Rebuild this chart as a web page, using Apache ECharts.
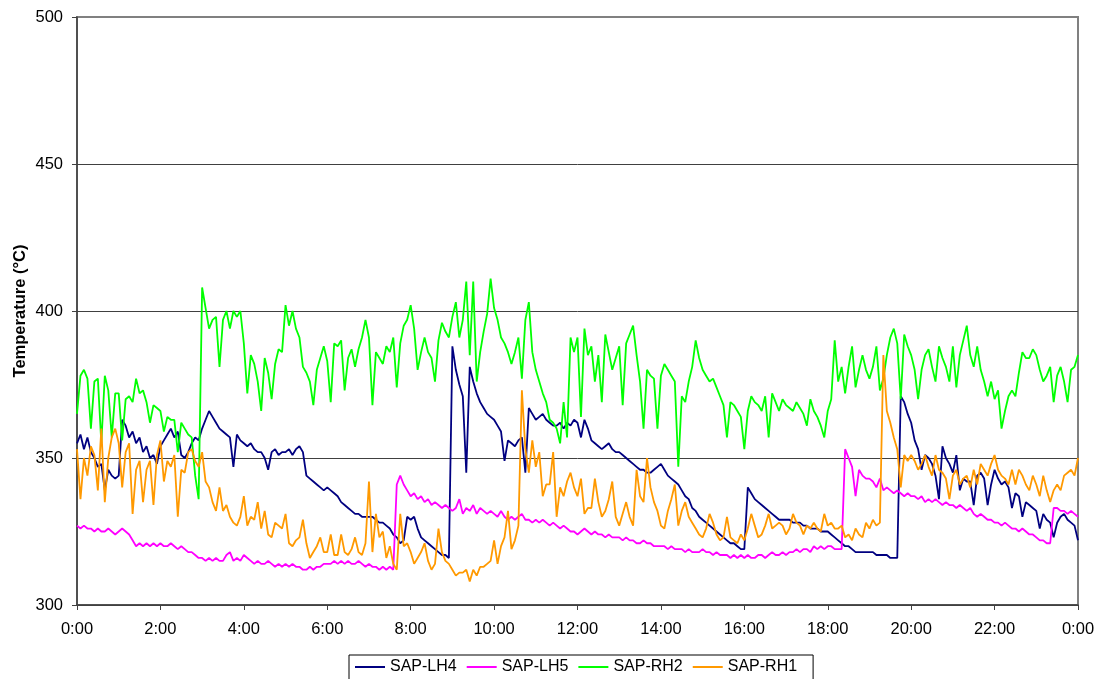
<!DOCTYPE html>
<html>
<head>
<meta charset="utf-8">
<script src="https://cdn.jsdelivr.net/npm/echarts@6/dist/echarts.min.js"></script>
<style>html,body{margin:0;padding:0;background:#fff;}#c{width:1098px;height:679px;}</style>
</head>
<body>
<div id="c"></div>
<script>
// Sampling step (minutes) of the series arrays below
const stepMinutes = 5;
const seriesNames = ['SAP-LH4', 'SAP-LH5', 'SAP-RH2', 'SAP-RH1'];
const yTicks = [300, 350, 400, 450, 500];
const xTickLabels = ['0:00','2:00','4:00','6:00','8:00','10:00','12:00','14:00','16:00','18:00','20:00','22:00','0:00'];

// SAP-LH4 (one row = one hour, 5-min samples)
const lh4 = [
 355,358,353,357,352,350,347,348,339,346,344,343,
 344,363,361,357,359,355,357,352,354,350,351,348,
 354,356,358,360,357,359,351,350,352,355,357,356,
 360,363,366,364,362,360,359,358,357,347,358,356,
 355,354,355,353,352,352,350,346,352,353,351,352,
 352,353,351,353,354,352,344,343,342,341,340,339,
 340,339,338,337,335,334,333,332,331,331,330,330,
 330,330,329,328,328,327,326,324,323,321,322,330,
 329,330,326,323,322,321,320,319,318,317,317,316,
 388,380,375,371,345,381,376,372,369,367,365,364,
 363,361,359,349,356,355,354,356,357,345,367,365,
 363,364,365,363,362,361,361,362,360,362,361,363,
 362,357,363,360,356,355,354,353,354,355,353,352,
 352,351,350,349,348,347,346,346,345,345,346,347,
 348,346,344,343,342,341,339,337,336,333,332,330,
 329,328,327,326,325,324,323,322,321,321,320,319,
 319,340,338,336,335,334,333,332,331,330,329,329,
 329,329,328,328,328,327,327,326,326,326,325,325,
 325,324,323,322,321,320,320,319,318,318,318,318,
 318,318,317,317,317,317,316,316,316,371,369,365,
 362,356,353,346,351,350,348,344,336,354,350,348,
 345,351,339,343,342,342,334,344,345,343,334,341,
 346,343,341,342,340,333,338,337,330,335,334,333,
 332,326,331,329,328,323,328,330,331,329,328,327,
 322
];

// SAP-LH5
const lh5 = [
 327,326,327,326,326,325,326,325,325,326,325,324,
 325,326,325,324,322,320,321,320,321,320,321,320,
 321,320,320,321,320,319,320,319,318,318,317,316,
 316,315,316,315,316,315,315,317,318,315,316,315,
 317,316,315,314,315,314,314,315,314,313,314,313,
 314,313,314,313,313,312,312,313,312,313,313,314,
 314,314,315,314,315,314,315,314,314,315,314,313,
 314,313,313,312,313,312,313,312,341,344,341,339,
 337,338,336,337,335,336,334,335,334,333,334,333,
 332,333,336,331,333,332,334,331,333,332,331,332,
 331,330,332,330,329,330,329,330,331,329,329,328,
 329,328,329,328,327,328,327,326,327,326,325,325,
 324,325,326,325,324,325,324,324,323,324,323,323,
 323,322,323,322,322,321,321,322,321,321,320,320,
 320,320,319,320,319,319,319,318,319,318,318,318,
 319,318,318,317,318,317,317,317,316,317,316,317,
 316,317,316,316,317,317,316,317,318,317,317,318,
 317,318,318,319,318,319,319,318,320,319,320,319,
 320,320,319,319,319,353,350,347,337,346,344,343,
 343,342,340,343,339,340,339,338,339,338,337,338,
 337,337,336,337,335,336,335,336,335,334,335,334,
 334,333,334,333,332,333,331,330,331,330,329,329,
 328,328,327,328,327,326,326,325,326,325,324,324,
 323,322,322,321,321,333,333,332,332,331,332,331,
 330
];

// SAP-RH2
const rh2 = [
 365,378,380,377,360,376,377,355,378,373,357,372,
 372,356,370,371,369,377,372,373,369,362,368,367,
 366,359,364,363,363,352,362,360,358,357,344,336,
 408,401,394,397,398,381,397,400,394,400,398,400,
 389,372,385,382,376,366,384,379,370,382,387,386,
 402,395,400,394,391,381,379,376,368,380,384,388,
 383,369,389,388,390,373,384,387,381,387,391,397,
 391,368,386,384,382,388,386,391,374,389,395,397,
 402,394,380,386,391,386,384,376,390,396,393,391,
 398,403,391,397,410,385,410,376,386,393,399,411,
 401,397,391,389,386,382,386,391,377,397,403,386,
 380,376,372,369,363,362,360,355,369,357,391,386,
 391,364,394,385,388,376,385,369,392,386,380,384,
 388,368,389,392,395,385,376,360,380,378,377,360,
 378,382,380,378,376,347,371,369,376,381,390,384,
 380,378,376,377,374,371,368,357,369,368,366,364,
 353,366,371,369,368,366,371,357,372,369,366,370,
 368,367,366,369,367,365,361,370,366,364,361,357,
 366,370,390,376,381,372,381,388,374,380,385,380,
 377,381,388,373,377,385,391,394,389,370,392,388,
 385,380,370,380,385,387,381,376,388,384,381,376,
 388,374,385,390,395,385,381,388,380,376,371,376,
 370,373,360,366,371,373,371,379,386,384,384,387,
 385,380,376,378,381,369,378,381,376,369,380,381,
 385
];

// SAP-RH1
const rh1 = [
 353,336,350,344,354,351,339,360,335,350,357,360,
 355,340,352,355,331,346,349,335,346,349,334,351,
 356,342,349,347,351,330,346,345,352,353,349,347,
 352,342,340,335,332,340,332,334,330,328,327,330,
 337,327,330,329,335,326,332,324,323,328,327,326,
 331,321,320,322,323,329,321,316,318,320,323,318,
 318,324,317,317,324,318,317,319,323,318,317,321,
 342,318,331,323,325,316,320,314,312,331,320,321,
 318,314,316,318,321,315,312,314,326,318,315,314,
 312,310,311,311,312,308,312,310,313,313,314,315,
 322,314,320,323,332,319,322,327,373,353,345,356,
 347,352,337,341,341,352,330,340,337,342,345,340,
 337,343,331,333,333,343,335,330,332,336,342,330,
 327,331,335,330,327,346,337,335,350,340,335,332,
 327,326,332,336,341,327,332,335,330,328,326,324,
 323,326,331,328,324,322,323,330,323,322,321,324,
 322,326,331,327,323,324,327,331,326,327,328,327,
 324,326,331,328,327,324,327,326,328,326,325,331,
 327,328,326,326,327,323,324,322,326,324,323,328,
 326,329,327,328,385,366,362,357,353,340,351,349,
 351,349,346,348,351,347,344,351,346,345,343,336,
 344,346,341,343,344,340,346,341,348,346,344,348,
 351,346,344,343,341,346,341,346,344,341,339,344,
 341,337,344,339,335,339,341,339,344,345,346,344,
 350
];

const seriesValues = [lh4, lh5, rh2, rh1];
const seriesColors = ['#000080', '#FF00FF', '#00FF00', '#FF9900'];

function toPairs(arr) {
  return arr.map((v, i) => [i * stepMinutes, v]);
}

const chart = echarts.init(document.getElementById('c'), null, { renderer: 'canvas' });
const font = 'Liberation Sans, Arial, sans-serif';

chart.setOption({
  animation: false,
  backgroundColor: '#ffffff',
  textStyle: { fontFamily: font },
  grid: {
    left: 77, right: 20, top: 17, bottom: 74,
    show: true, borderColor: '#808080', borderWidth: 2, backgroundColor: '#ffffff'
  },
  xAxis: {
    type: 'value',
    min: 0, max: 1440, interval: 120,
    axisLine: { show: true, lineStyle: { color: '#404040', width: 1.5 } },
    axisTick: { show: true, length: 5, lineStyle: { color: '#404040' } },
    splitLine: { show: false },
    axisLabel: {
      color: '#000', fontSize: 16.5, fontFamily: font, margin: 16,
      formatter: function (v) { return xTickLabels[Math.round(v / 120)]; }
    }
  },
  yAxis: {
    type: 'value',
    min: yTicks[0], max: yTicks[yTicks.length - 1], interval: 50,
    name: 'Temperature (°C)',
    nameLocation: 'middle',
    nameGap: 48,
    nameMoveOverlap: false,
    nameTextStyle: { color: '#000', fontSize: 16.5, fontWeight: 'bold', fontFamily: font },
    axisLine: { show: true, lineStyle: { color: '#404040', width: 1.5 } },
    axisTick: { show: true, length: 5, lineStyle: { color: '#404040' } },
    splitLine: { show: true, lineStyle: { color: ['#404040', '#404040', '#404040', '#404040', '#808080'], width: 1 } },
    axisLabel: { color: '#000', fontSize: 16.5, fontFamily: font, margin: 14 }
  },
  legend: {
    left: 349, top: 655,
    padding: [4, 16, 6, 6],
    itemWidth: 30, itemHeight: 2, itemGap: 10,
    icon: 'rect',
    borderColor: '#000', borderWidth: 1,
    textStyle: { color: '#000', fontSize: 16, fontFamily: font },
    data: seriesNames
  },
  series: seriesNames.map((name, k) => ({
    name: name,
    type: 'line',
    data: toPairs(seriesValues[k]),
    symbol: 'none',
    showSymbol: false,
    lineStyle: { color: seriesColors[k], width: 1.8 },
    itemStyle: { color: seriesColors[k] },
    z: 2 + k
  }))
});
</script>
</body>
</html>
